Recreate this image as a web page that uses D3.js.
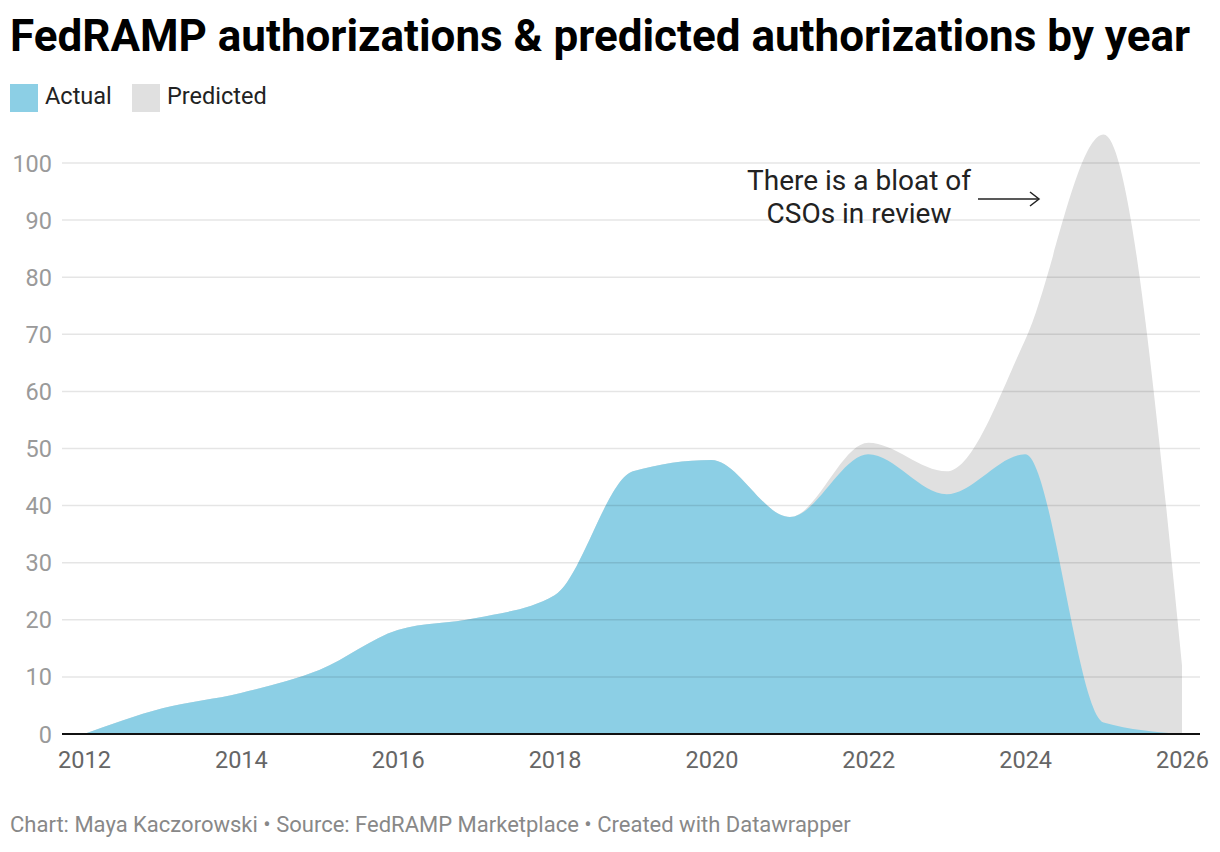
<!DOCTYPE html>
<html><head><meta charset="utf-8">
<script src="https://cdn.jsdelivr.net/npm/d3@7"></script>
<style>body{margin:0;background:#fff;font-family:Roboto,sans-serif}</style>
</head><body><svg id="c" width="1220" height="852"></svg>
<script>
const years = [2012,2013,2014,2015,2016,2017,2018,2019,2020,2021,2022,2023,2024,2025,2026];
const actual = [0,4.5,7.2,11.2,18.2,20.3,24.3,46,48,38,49,42,49,2,0];
const predicted = [0,4.5,7.2,11.2,18.2,20.3,24.3,46,48,38,51,46,69,105,12];
const yTicks = [0,10,20,30,40,50,60,70,80,90,100];
const xTicks = [2012,2014,2016,2018,2020,2022,2024,2026];
const seriesNames = ["Actual","Predicted"];
const colors = ["#8ccfe5","#e0e0e0"];

const svg = d3.select("#c");
const x = d3.scaleLinear().domain([2012,2026]).range([84,1182]);
const y = d3.scaleLinear().domain([0,100]).range([734,163]);

svg.append("text").attr("x",10).attr("y",51).attr("font-size",44).attr("font-weight",700)
  .attr("fill","#000").text("FedRAMP authorizations & predicted authorizations by year");

// legend
const lx = [10,132];
seriesNames.forEach((n,i)=>{
  svg.append("rect").attr("x",lx[i]).attr("y",84).attr("width",28).attr("height",28).attr("fill",colors[i]);
  svg.append("text").attr("x",lx[i]+35).attr("y",104).attr("font-size",23.5).attr("fill","#222").text(n);
});

const area = d3.area().x((d,i)=>x(years[i])).y0(y(0)).y1(d=>y(d)).curve(d3.curveMonotoneX);
svg.append("path").datum(predicted).attr("d",area).attr("fill",colors[1]);
svg.append("path").datum(actual).attr("d",area).attr("fill",colors[0]);

// gridlines
const g = svg.append("g");
yTicks.filter(t=>t>0).forEach(t=>{
  g.append("line").attr("x1",62).attr("x2",1200).attr("y1",y(t)).attr("y2",y(t))
   .attr("stroke","#000").attr("stroke-opacity",0.1).attr("stroke-width",1.5);
});
yTicks.forEach(t=>{
  svg.append("text").attr("x",52).attr("y",y(t)+8.5).attr("text-anchor","end")
   .attr("font-size",23.5).attr("fill","#9a9a9a").text(t);
});
svg.append("line").attr("x1",62).attr("x2",1200).attr("y1",y(0)).attr("y2",y(0))
  .attr("stroke","#111").attr("stroke-width",2);

const xAxis = d3.axisBottom(x).tickValues(xTicks).tickFormat(d3.format("d")).tickSize(0).tickPadding(0);
const ax = svg.append("g").call(xAxis);
ax.select(".domain").remove();
ax.selectAll("text").attr("font-size",23.5).attr("fill","#666").attr("font-family","Roboto,sans-serif")
  .attr("dy",null).attr("y",768);

// annotation
const ann = svg.append("text").attr("text-anchor","middle").attr("font-size",28).attr("fill","#222");
ann.append("tspan").attr("x",859).attr("y",190).text("There is a bloat of");
ann.append("tspan").attr("x",859).attr("y",223).text("CSOs in review");
svg.append("line").attr("x1",978).attr("x2",1039).attr("y1",199).attr("y2",199).attr("stroke","#222").attr("stroke-width",1.5);
svg.append("path").attr("d","M1030,192 L1039,199 L1030,206").attr("fill","none").attr("stroke","#222").attr("stroke-width",1.5);

svg.append("text").attr("x",10).attr("y",832).attr("font-size",22).attr("fill","#888")
  .text("Chart: Maya Kaczorowski • Source: FedRAMP Marketplace • Created with Datawrapper");
</script></body></html>
